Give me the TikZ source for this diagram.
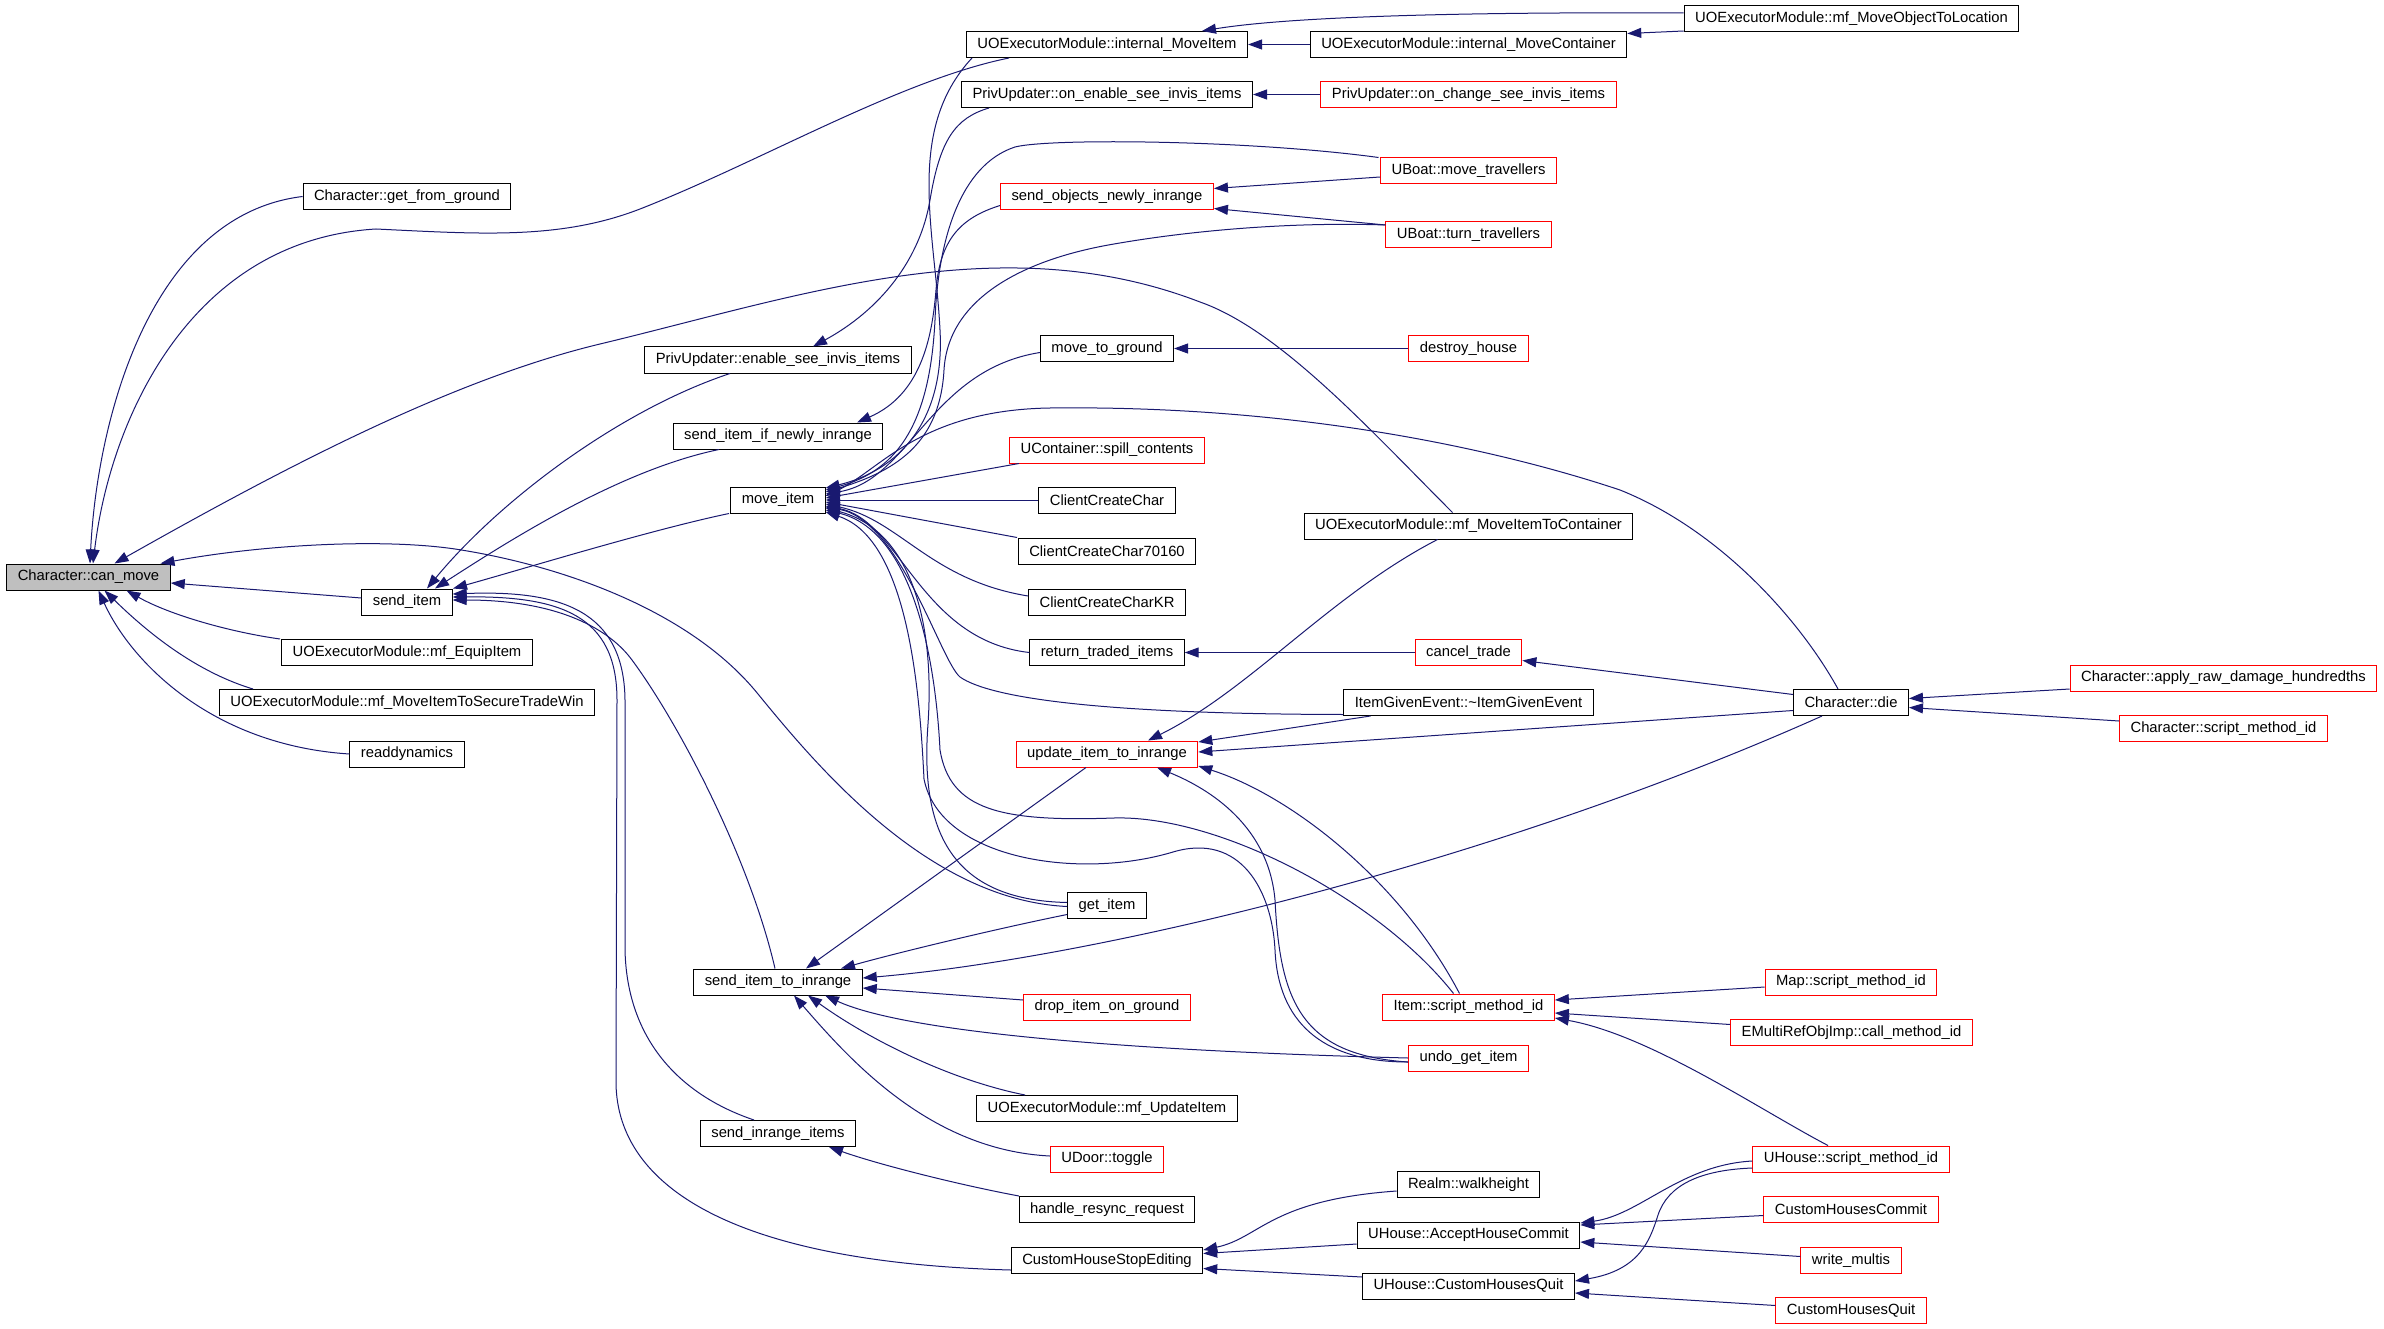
\documentclass[tikz,border=0pt]{standalone}
\usepackage{fontspec}
\setmainfont{Liberation Sans}
\usetikzlibrary{arrows.meta}
\definecolor{edgeblue}{HTML}{191970}
\definecolor{rootgray}{HTML}{BFBFBF}

\begin{document}
\begin{tikzpicture}[x=1pt,y=-1pt,
  fn/.style={draw,line width=1pt,fill=white,minimum height=26pt,inner xsep=11pt,inner ysep=0pt,font=\fontsize{14.8pt}{16pt}\selectfont},
  fnred/.style={fn,draw=red},
  >={Triangle[length=14pt,width=10pt]},
  call/.style={<-,draw=edgeblue,line width=1pt}]

\fill[white] (0,0) rectangle (2384,1329);
\useasboundingbox (0,0) rectangle (2384,1329);

% nodes
\node (canmove) [fn,fill=rootgray] at (88.5,577) {Character::can\_move};
\node (getfromground) [fn] at (407,196.5) {Character::get\_from\_ground};
\node (senditem) [fn] at (407,602) {send\_item};
\node (equipitem) [fn] at (407,652.5) {UOExecutorModule::mf\_EquipItem};
\node (securetrade) [fn] at (407,702.5) {UOExecutorModule::mf\_MoveItemToSecureTradeWin};
\node (readdyn) [fn] at (407,754) {readdynamics};
\node (enablesee) [fn] at (778,360) {PrivUpdater::enable\_see\_invis\_items};
\node (sendifnewly) [fn] at (778,436) {send\_item\_if\_newly\_inrange};
\node (moveitem) [fn] at (778,500) {move\_item};
\node (sendtoinrange) [fn] at (778,982) {send\_item\_to\_inrange};
\node (sendinrange) [fn] at (778,1133.5) {send\_inrange\_items};
\node (intmoveitem) [fn] at (1107,44.5) {UOExecutorModule::internal\_MoveItem};
\node (onenable) [fn] at (1107,94.5) {PrivUpdater::on\_enable\_see\_invis\_items};
\node (sendobjects) [fnred] at (1107,196.5) {send\_objects\_newly\_inrange};
\node (movetoground) [fn] at (1107,348.5) {move\_to\_ground};
\node (spill) [fnred] at (1107,450) {UContainer::spill\_contents};
\node (ccchar) [fn] at (1107,500) {ClientCreateChar};
\node (ccchar70) [fn] at (1107,551) {ClientCreateChar70160};
\node (cccharkr) [fn] at (1107,602) {ClientCreateCharKR};
\node (returntraded) [fn] at (1107,652.5) {return\_traded\_items};
\node (updateitem) [fnred] at (1107,754) {update\_item\_to\_inrange};
\node (getitem) [fn] at (1107,905.5) {get\_item};
\node (dropitem) [fnred] at (1107,1007) {drop\_item\_on\_ground};
\node (mfupdateitem) [fn] at (1107,1108.5) {UOExecutorModule::mf\_UpdateItem};
\node (udoor) [fnred] at (1107,1159) {UDoor::toggle};
\node (resync) [fn] at (1107,1209.5) {handle\_resync\_request};
\node (stopediting) [fn] at (1107,1260.5) {CustomHouseStopEditing};
\node (intmovecont) [fn] at (1468.5,44.5) {UOExecutorModule::internal\_MoveContainer};
\node (onchange) [fnred] at (1468.5,94.5) {PrivUpdater::on\_change\_see\_invis\_items};
\node (movetrav) [fnred] at (1468.5,171) {UBoat::move\_travellers};
\node (turntrav) [fnred] at (1468.5,235) {UBoat::turn\_travellers};
\node (destroyhouse) [fnred] at (1468.5,348.5) {destroy\_house};
\node (moveitemtocont) [fn] at (1468.5,526) {UOExecutorModule::mf\_MoveItemToContainer};
\node (canceltrade) [fnred] at (1468.5,652.5) {cancel\_trade};
\node (itemgiven) [fn] at (1468.5,702.5) {ItemGivenEvent::\textasciitilde ItemGivenEvent};
\node (itemscript) [fnred] at (1468.5,1007) {Item::script\_method\_id};
\node (undogetitem) [fnred] at (1468.5,1058) {undo\_get\_item};
\node (walkheight) [fn] at (1468.5,1184.5) {Realm::walkheight};
\node (acceptcommit) [fn] at (1468.5,1235) {UHouse::AcceptHouseCommit};
\node (uhousequit) [fn] at (1468.5,1286) {UHouse::CustomHousesQuit};
\node (moveobjloc) [fn] at (1851.5,19) {UOExecutorModule::mf\_MoveObjectToLocation};
\node (chardie) [fn] at (1851,702.5) {Character::die};
\node (mapscript) [fnred] at (1851,982) {Map::script\_method\_id};
\node (emulti) [fnred] at (1851.5,1032.5) {EMultiRefObjImp::call\_method\_id};
\node (uhousescript) [fnred] at (1851,1159) {UHouse::script\_method\_id};
\node (commit) [fnred] at (1851,1209.5) {CustomHousesCommit};
\node (writemultis) [fnred] at (1851,1260.5) {write\_multis};
\node (quit) [fnred] at (1851,1310.5) {CustomHousesQuit};
\node (applydamage) [fnred] at (2223.5,678) {Character::apply\_raw\_damage\_hundredths};
\node (charscript) [fnred] at (2223.5,728.5) {Character::script\_method\_id};

% arrows into can_move
\draw[call] ([xshift=1.5pt]canmove.north) .. controls (97,420) and (150,215) .. (getfromground.west);
\draw[call] ([xshift=4.5pt]canmove.north) .. controls (110,420) and (190,240) .. (376,229) .. controls (480,234) and (560,240) .. (640,209) .. controls (760,162) and (900,80) .. ([xshift=-98pt]intmoveitem.south);
\draw[call] ([xshift=26pt]canmove.north) .. controls (280,470) and (450,380) .. (600,344) .. controls (800,296) and (1000,225) .. (1200,302) .. controls (1280,330) and (1370,430) .. ([xshift=-16pt]moveitemtocont.north);
\draw[call] ([xshift=72pt]canmove.north) .. controls (260,545) and (380,538) .. (455,549) .. controls (560,565) and (690,610) .. (758,694) .. controls (820,770) and (930,900) .. ([yshift=-1pt]getitem.west);
\draw[call] ([yshift=-6pt]canmove.east) -- ([yshift=4pt]senditem.west);
\draw[call] ([xshift=38pt]canmove.south) .. controls (170,615) and (230,632) .. ([xshift=-127pt]equipitem.north);
\draw[call] ([xshift=16pt]canmove.south) .. controls (140,625) and (190,670) .. ([xshift=-154pt]securetrade.north);
\draw[call] ([xshift=10pt]canmove.south) .. controls (130,660) and (210,745) .. (readdyn.west);

% arrows into send_item
\draw[call] ([xshift=20pt]senditem.north) .. controls (500,500) and (620,410) .. ([xshift=-48pt]enablesee.south);
\draw[call] ([xshift=28pt]senditem.north) .. controls (510,540) and (620,470) .. ([xshift=-59pt]sendifnewly.south);
\draw[call] ([xshift=46pt]senditem.north) .. controls (520,570) and (650,530) .. ([xshift=-49pt]moveitem.south);
\draw[call] ([yshift=2pt]senditem.east) .. controls (560,600) and (610,630) .. (632,660) .. controls (680,725) and (750,860) .. ([xshift=-3pt]sendtoinrange.north);
\draw[call] ([yshift=8pt]senditem.east) .. controls (560,590) and (624,610) .. (625,700) -- (625,950) .. controls (627,1040) and (680,1095) .. ([xshift=-24pt]sendinrange.north);
\draw[call] ([yshift=5pt]senditem.east) .. controls (560,596) and (617,615) .. (617,700) -- (616,1080) .. controls (615,1180) and (720,1262) .. ([yshift=-9.5pt]stopediting.west);

% arrows into send_item_to_inrange
\draw[call] ([xshift=28pt]sendtoinrange.north) -- ([xshift=-21pt]updateitem.south);
\draw[call] ([xshift=63pt]sendtoinrange.north) .. controls (900,952) and (1000,928) .. ([yshift=-9pt]getitem.west);
\draw[call] ([yshift=4pt]sendtoinrange.east) .. controls (1100,958) and (1500,860) .. ([xshift=-29pt]chardie.south);
\draw[call] ([yshift=-6pt]sendtoinrange.east) -- ([yshift=7pt]dropitem.west);
\draw[call] ([xshift=47pt]sendtoinrange.south) .. controls (900,1030) and (1100,1050) .. (undogetitem.west);
\draw[call] ([xshift=30pt]sendtoinrange.south) .. controls (870,1040) and (950,1080) .. ([xshift=-82pt]mfupdateitem.north);
\draw[call] ([xshift=16pt]sendtoinrange.south) .. controls (850,1060) and (930,1150) .. ([yshift=3pt]udoor.west);
\draw[call] ([xshift=51pt]sendinrange.south) .. controls (880,1165) and (960,1185) .. ([xshift=-88pt]resync.north);

% arrows into move_item
\draw[call] ([yshift=12pt]moveitem.east) .. controls (900,470) and (945,420) .. (940,330) .. controls (935,230) and (905,130) .. ([xshift=-135pt]intmoveitem.south);
\draw[call] ([yshift=10pt]moveitem.east) .. controls (900,470) and (930,420) .. (935,320) .. controls (938,240) and (960,165) .. (1015,147) .. controls (1050,138) and (1250,140) .. ([xshift=-90pt]movetrav.north);
\draw[call] ([yshift=8pt]moveitem.east) .. controls (900,470) and (940,440) .. (944,370) .. controls (948,300) and (1020,260) .. (1114,244) .. controls (1200,229) and (1300,222) .. ([yshift=10pt]turntrav.west);
\draw[call] ([yshift=6pt]moveitem.east) .. controls (910,480) and (930,370) .. ([yshift=-4pt]movetoground.west);
\draw[call] ([yshift=4pt]moveitem.east) .. controls (880,470) and (920,410) .. (1050,408) .. controls (1300,405) and (1500,450) .. (1620,490) .. controls (1720,530) and (1800,620) .. ([xshift=-13pt]chardie.north);
\draw[call] ([yshift=2pt]moveitem.east) -- ([xshift=-88pt]spill.south);
\draw[call] (moveitem.east) -- (ccchar.west);
\draw[call] ([yshift=-2pt]moveitem.east) -- ([xshift=-90pt]ccchar70.north);
\draw[call] ([yshift=-4pt]moveitem.east) .. controls (900,520) and (930,580) .. ([yshift=6pt]cccharkr.west);
\draw[call] ([yshift=-6pt]moveitem.east) .. controls (900,520) and (920,640) .. (returntraded.west);
\draw[call] ([yshift=-7pt]moveitem.east) .. controls (900,520) and (940,660) .. (960,677) .. controls (990,698) and (1100,714) .. ([yshift=-12pt]itemgiven.west);
\draw[call] ([yshift=-8pt]moveitem.east) .. controls (910,530) and (935,620) .. (928,724) .. controls (920,830) and (950,900) .. ([yshift=3pt]getitem.west);
\draw[call] ([yshift=-10pt]moveitem.east) .. controls (910,530) and (935,650) .. (940,750) .. controls (950,810) and (1000,822) .. (1114,818) .. controls (1220,815) and (1380,900) .. ([xshift=-15pt]itemscript.north);
\draw[call] ([yshift=-12pt]moveitem.east) .. controls (910,540) and (920,700) .. (924,779) .. controls (940,860) and (1080,880) .. (1173,852) .. controls (1240,832) and (1272,890) .. (1275,950) .. controls (1278,1020) and (1320,1062) .. ([yshift=-4pt]undogetitem.west);

% arrows into update_item_to_inrange
\draw[call] ([xshift=50pt]updateitem.south) .. controls (1200,785) and (1268,820) .. (1275,900) .. controls (1280,1000) and (1300,1055) .. ([yshift=-4pt]undogetitem.west);
\draw[call] ([yshift=-12pt]updateitem.east) .. controls (1290,795) and (1400,880) .. ([xshift=-9pt]itemscript.north);
\draw[call] ([yshift=12pt]updateitem.east) -- ([xshift=-98pt]itemgiven.south);
\draw[call] ([yshift=2pt]updateitem.east) -- ([yshift=-8pt]chardie.west);
\draw[call] ([xshift=41pt]updateitem.north) .. controls (1250,690) and (1330,595) .. ([xshift=-31pt]moveitemtocont.south);

% other arrows
\draw[call] ([yshift=-8pt]canceltrade.east) -- ([yshift=8pt]chardie.west);
\draw[call] (returntraded.east) -- (canceltrade.west);
\draw[call] (movetoground.east) -- (destroyhouse.west);
\draw[call] ([yshift=8pt]sendobjects.east) -- ([yshift=-6pt]movetrav.west);
\draw[call] ([yshift=-12pt]sendobjects.east) -- ([yshift=10pt]turntrav.west);
\draw[call] ([xshift=79pt]sendifnewly.north) .. controls (920,395) and (932,340) .. (936,290) .. controls (940,240) and (960,218) .. ([yshift=-9pt]sendobjects.west);
\draw[call] ([xshift=35pt]enablesee.north) .. controls (880,310) and (920,260) .. (930,200) .. controls (940,140) and (955,118) .. ([xshift=-118pt]onenable.south);
\draw[call] (onenable.east) -- (onchange.west);
\draw[call] (intmoveitem.east) -- (intmovecont.west);
\draw[call] ([xshift=95pt]intmoveitem.north) .. controls (1300,15) and (1500,12) .. ([yshift=6pt]moveobjloc.west);
\draw[call] ([yshift=11pt]intmovecont.east) -- ([yshift=-12pt]moveobjloc.west);
\draw[call] ([yshift=4pt]chardie.east) -- ([yshift=-11pt]applydamage.west);
\draw[call] ([yshift=-5pt]chardie.east) -- ([yshift=7.5pt]charscript.west);
\draw[call] ([yshift=7pt]itemscript.east) -- ([yshift=-5pt]mapscript.west);
\draw[call] ([yshift=-6pt]itemscript.east) -- ([yshift=8pt]emulti.west);
\draw[call] ([yshift=-11pt]itemscript.east) .. controls (1650,1035) and (1760,1110) .. ([xshift=-23pt]uhousescript.north);
\draw[call] ([yshift=12pt]acceptcommit.east) .. controls (1640,1215) and (1680,1165) .. ([yshift=-2pt]uhousescript.west);
\draw[call] ([yshift=5pt]uhousequit.east) .. controls (1640,1270) and (1650,1240) .. (1658,1215) .. controls (1668,1185) and (1700,1170) .. ([yshift=-9pt]uhousescript.west);
\draw[call] ([yshift=10pt]acceptcommit.east) -- ([yshift=-6pt]commit.west);
\draw[call] ([yshift=-7pt]acceptcommit.east) -- ([yshift=4pt]writemultis.west);
\draw[call] ([yshift=-7pt]uhousequit.east) -- ([yshift=5pt]quit.west);
\draw[call] ([yshift=10.5pt]stopediting.east) .. controls (1260,1238) and (1270,1200) .. ([yshift=-6.5pt]walkheight.west);
\draw[call] ([yshift=7pt]stopediting.east) -- ([yshift=-9pt]acceptcommit.west);
\draw[call] ([yshift=-8pt]stopediting.east) -- ([yshift=9pt]uhousequit.west);
\end{tikzpicture}
\end{document}
